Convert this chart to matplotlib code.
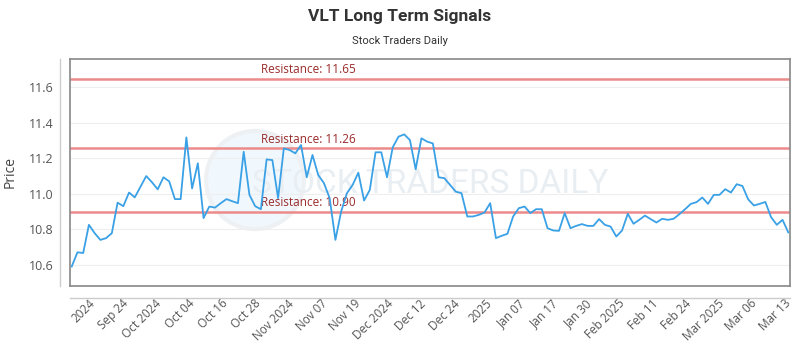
import numpy as np
import matplotlib.pyplot as plt
from matplotlib.patches import Ellipse
from matplotlib.lines import Line2D

prices = [
    10.59, 10.67, 10.666, 10.825, 10.778, 10.74, 10.75, 10.778, 10.95, 10.93,
    11.007, 10.98, 11.04, 11.10, 11.065, 11.025, 11.093, 11.07, 10.97, 10.97,
    11.318, 11.03, 11.172, 10.863, 10.928, 10.922, 10.947, 10.97, 10.958, 10.947,
    11.237, 10.994, 10.93, 10.913, 11.194, 11.19, 10.975, 11.256, 11.247, 11.228,
    11.275, 11.093, 11.219, 11.106, 11.06, 10.975, 10.74, 10.90, 11.003, 11.05,
    11.119, 10.962, 11.022, 11.234, 11.234, 11.093, 11.262, 11.322, 11.335, 11.303,
    11.138, 11.313, 11.294, 11.284, 11.093, 11.088, 11.05, 11.012, 11.003, 10.872,
    10.872, 10.881, 10.894, 10.947, 10.75, 10.763, 10.774, 10.872, 10.919, 10.928,
    10.891, 10.913, 10.913, 10.806, 10.793, 10.791, 10.891, 10.806, 10.819, 10.829,
    10.819, 10.819, 10.857, 10.825, 10.815, 10.759, 10.793, 10.887, 10.831, 10.853,
    10.877, 10.857, 10.838, 10.859, 10.853, 10.859, 10.885, 10.913, 10.943, 10.953,
    10.979, 10.943, 10.994, 10.994, 11.026, 11.007, 11.054, 11.044, 10.969, 10.934,
    10.943, 10.954, 10.868, 10.825, 10.853, 10.782,
]
tick_labels = [
    "2024", "Sep 24", "Oct 2024", "Oct 04", "Oct 16", "Oct 28", "Nov 2024",
    "Nov 07", "Nov 19", "Dec 2024", "Dec 12", "Dec 24", "2025", "Jan 07",
    "Jan 17", "Jan 30", "Feb 2025", "Feb 11", "Feb 24", "Mar 2025", "Mar 06",
    "Mar 13",
]
resistance = [11.65, 11.26, 10.90]

plt.rcParams['font.family'] = ['Open Sans', 'DejaVu Sans']

fig = plt.figure(figsize=(8, 3.5), dpi=100)
ax = fig.add_axes([70 / 800, 1 - 286 / 350, 720 / 800, 227 / 350])

x = np.arange(len(prices))

# faint watermark (logo + text)
ax.add_patch(Ellipse((0.257, 0.467), 0.136, 0.432, transform=ax.transAxes,
                     facecolor='#f1f8fd', edgecolor='#eef1f4', lw=3, zorder=0))
ax.text(0.50, 0.45, "STOCK TRADERS DAILY", transform=ax.transAxes, ha='center', va='center',
        fontsize=24, color='#e9eef3', family=['Roboto', 'DejaVu Sans'], zorder=0.5)

for r in resistance:
    ax.axhline(r, color='#ec8a8a', lw=1.8, zorder=2)
    ax.text(33, r + 0.012, f"Resistance: {r:.2f}", color='#9b2b2b', fontsize=8.5,
            ha='left', va='bottom', zorder=3)

ax.plot(x, prices, color='#3aa1e6', lw=1.3, zorder=4)

ax.set_xlim(-0.3, len(prices) - 0.7)
ax.set_ylim(10.48, 11.76)
ax.set_yticks([10.6, 10.8, 11.0, 11.2, 11.4, 11.6])
ax.set_yticklabels([f"{v:.1f}" for v in [10.6, 10.8, 11.0, 11.2, 11.4, 11.6]])
ax.grid(axis='y', color='#eeeeee', lw=0.8, zorder=1)
ax.set_axisbelow(True)

ticks = np.linspace(3, len(prices) - 1.8, len(tick_labels))
ax.set_xticks(ticks)
ax.set_xticklabels(tick_labels, rotation=45, ha='right', rotation_mode='anchor')
ax.tick_params(axis='x', length=0, pad=8, labelsize=8.5, labelcolor='#555555')
ax.tick_params(axis='y', length=0, pad=12, labelsize=9, labelcolor='#555555')

for s in ax.spines.values():
    s.set_color('#888888')
    s.set_linewidth(1.2)

ax.set_ylabel("Price", fontsize=10, color='#444444', labelpad=8)

# offset axis lines
fig.add_artist(Line2D([60 / 800, 60 / 800], [1 - 286 / 350, 1 - 59 / 350],
                      transform=fig.transFigure, color='#cccccc', lw=1))
fig.add_artist(Line2D([70 / 800, 790 / 800], [1 - 298 / 350, 1 - 298 / 350],
                      transform=fig.transFigure, color='#cccccc', lw=1))

fig.text(0.5, 1 - 16 / 350, "VLT Long Term Signals", ha='center', va='center',
         fontsize=12.5, fontweight='bold', color='#333333', family=['Roboto', 'DejaVu Sans'])
fig.text(0.5, 1 - 41 / 350, "Stock Traders Daily", ha='center', va='center',
         fontsize=8, color='#333333', family=['Roboto', 'DejaVu Sans'])

fig.savefig("out.png", dpi=100)
